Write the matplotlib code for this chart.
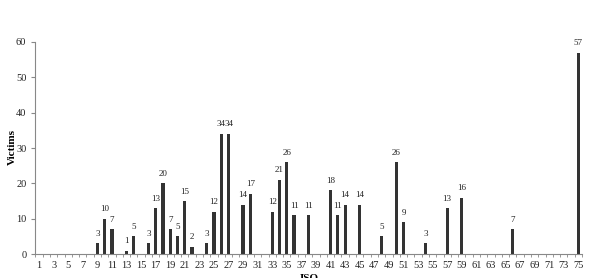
import matplotlib
matplotlib.use("Agg")
import matplotlib.pyplot as plt

plt.rcParams['font.family'] = ['Liberation Serif', 'DejaVu Serif']

# Victims per ISO category (only non-zero categories listed)
categories = list(range(1, 76))
bar_cats = [9, 10, 11, 13, 14, 16, 17, 18, 19, 20, 21, 22, 24, 25, 26, 27,
            29, 30, 33, 34, 35, 36, 38, 41, 42, 43, 45, 48, 50, 51, 54, 57,
            59, 66, 75]
victims = [3, 10, 7, 1, 5, 3, 13, 20, 7, 5, 15, 2, 3, 12, 34, 34,
           14, 17, 12, 21, 26, 11, 11, 18, 11, 14, 14, 5, 26, 9, 3, 13,
           16, 7, 57]
tick_labels = [str(c) for c in categories if c % 2 == 1]

fig = plt.figure(figsize=(6, 2.78), dpi=100)
ax = fig.add_axes([0.059, 0.086, 0.911, 0.763])

ax.bar(bar_cats, victims, width=0.45, color='#333333', zorder=2)
for c, v in zip(bar_cats, victims):
    ax.annotate(str(v), (c, v), xytext=(0, 4), textcoords='offset points',
                ha='center', va='bottom', fontsize=6.5, color='#222222')

ax.set_xlim(0.5, 75.5)
ax.set_ylim(0, 60)
ax.set_yticks(range(0, 61, 10))
ax.set_xticks([c for c in categories if c % 2 == 1])
ax.set_xticklabels(tick_labels)
ax.set_xticks([c + 0.5 for c in range(0, 76)], minor=True)
ax.tick_params(axis='x', which='major', length=0, labelsize=7.5, pad=5,
               colors='#222222')
ax.tick_params(axis='x', which='minor', length=2.5, color='#888888')
ax.tick_params(axis='y', length=3, labelsize=7.5, color='#888888',
               labelcolor='#222222')

for s in ['top', 'right']:
    ax.spines[s].set_visible(False)
ax.spines['left'].set_color('#888888')
ax.spines['bottom'].set_color('#888888')

fig.text(0.02, 0.47, 'Victims', rotation=90, ha='center', va='center',
         fontsize=8, fontweight='bold')
fig.text(0.515, 0.016, 'ISO', ha='center', va='top', fontsize=8,
         fontweight='bold')

fig.savefig('out.png', dpi=100)
